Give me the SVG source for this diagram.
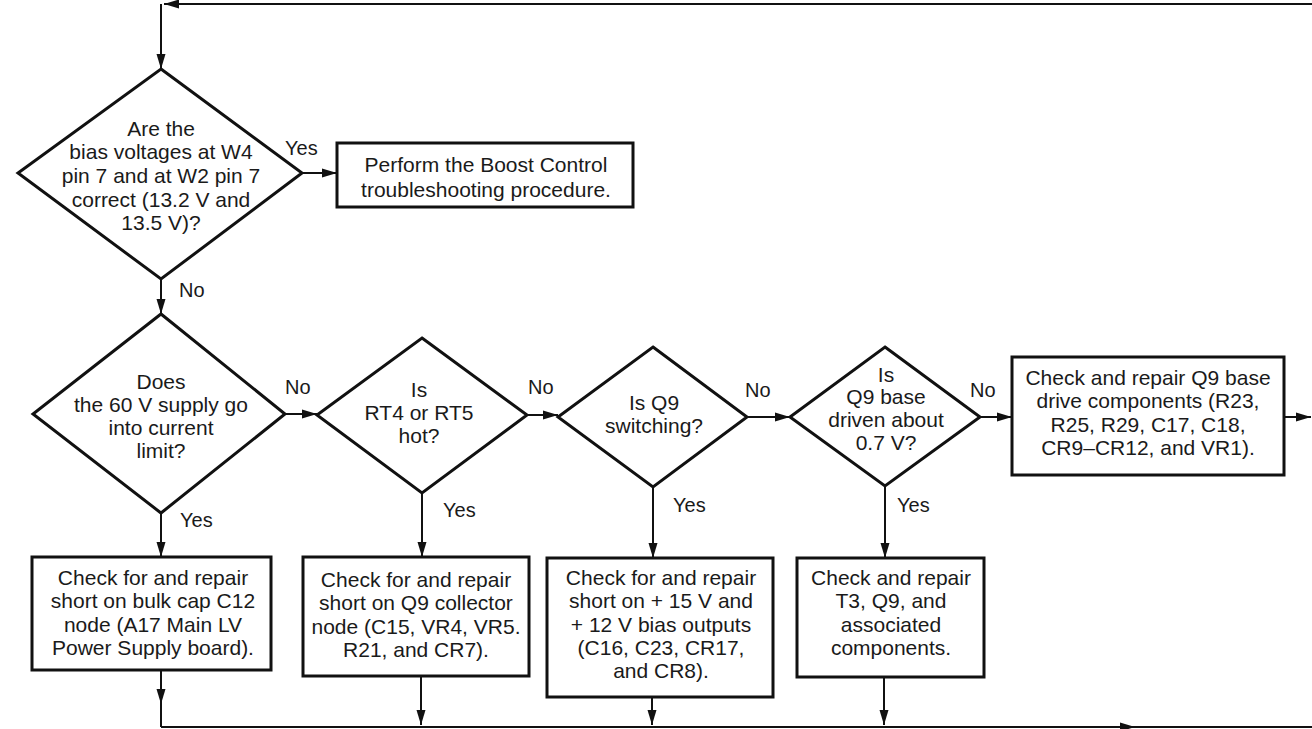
<svg xmlns="http://www.w3.org/2000/svg" width="1312" height="729" viewBox="0 0 1312 729">
<defs>
<marker id="ah" markerUnits="userSpaceOnUse" markerWidth="16" markerHeight="10" refX="15" refY="5" orient="auto">
<path d="M0,0.5 L15,5 L0,9.5 z" fill="#111"/>
</marker>
<style>
.shape{fill:#fff;stroke:#111;stroke-width:3}
.conn{fill:none;stroke:#111;stroke-width:2}
text{font-family:"Liberation Sans",Arial,Helvetica,sans-serif;font-size:21px;fill:#1a1a1a;text-anchor:middle}
.lbl{font-size:20px;text-anchor:start}
</style>
</defs>
<rect width="1312" height="729" fill="#fff"/>
<g id="connectors">
<path class="conn" d="M1312,4 H164" stroke-width="2.5" marker-end="url(#ah)"/>
<path class="conn" d="M161,4 V69" marker-end="url(#ah)"/>
<path class="conn" d="M302,173 H337" marker-end="url(#ah)"/>
<path class="conn" d="M161,279 V314" marker-end="url(#ah)"/>
<path class="conn" d="M285,414 H317" marker-end="url(#ah)"/>
<path class="conn" d="M527,415 H558" marker-end="url(#ah)"/>
<path class="conn" d="M747,417 H790" marker-end="url(#ah)"/>
<path class="conn" d="M980,417 H1012" marker-end="url(#ah)"/>
<path class="conn" d="M1284,417 H1311" marker-end="url(#ah)"/>
<path class="conn" d="M161,513 V557" marker-end="url(#ah)"/>
<path class="conn" d="M422,493 V557" marker-end="url(#ah)"/>
<path class="conn" d="M653,487 V558" marker-end="url(#ah)"/>
<path class="conn" d="M885,486 V558" marker-end="url(#ah)"/>
<path class="conn" d="M161,670 V704" marker-end="url(#ah)"/>
<path class="conn" d="M161,702 V727"/>
<path class="conn" d="M421,676 V725" marker-end="url(#ah)"/>
<path class="conn" d="M652,697 V725" marker-end="url(#ah)"/>
<path class="conn" d="M884,677 V725" marker-end="url(#ah)"/>
<path class="conn" d="M161,727 H1135" marker-end="url(#ah)"/>
<path class="conn" d="M1133,727 H1312"/>
<text class="lbl" x="285" y="155">Yes</text>
<text class="lbl" x="179" y="297">No</text>
<text class="lbl" x="285" y="394">No</text>
<text class="lbl" x="528" y="394">No</text>
<text class="lbl" x="745" y="397">No</text>
<text class="lbl" x="970" y="397">No</text>
<text class="lbl" x="180" y="527">Yes</text>
<text class="lbl" x="443" y="517">Yes</text>
<text class="lbl" x="673" y="512">Yes</text>
<text class="lbl" x="897" y="512">Yes</text>
</g>
<g id="d1">
<polygon class="shape" points="161,69 302,173 161,279 18,173"/>
<text x="161" y="136">Are the</text>
<text x="161" y="159">bias voltages at W4</text>
<text x="161" y="183">pin 7 and at W2 pin 7</text>
<text x="161" y="207">correct (13.2 V and</text>
<text x="161" y="230">13.5 V)?</text>
</g>
<g id="box1">
<rect class="shape" x="337" y="143" width="296" height="64"/>
<text x="486" y="172">Perform the Boost Control</text>
<text x="486" y="197">troubleshooting procedure.</text>
</g>
<g id="d2">
<polygon class="shape" points="161,314 285,414 161,513 33,414"/>
<text x="161" y="389">Does</text>
<text x="161" y="412">the 60 V supply go</text>
<text x="161" y="435">into current</text>
<text x="161" y="458">limit?</text>
</g>
<g id="d3">
<polygon class="shape" points="422,338 527,415 422,493 317,415"/>
<text x="419" y="397">Is</text>
<text x="419" y="420">RT4 or RT5</text>
<text x="419" y="443">hot?</text>
</g>
<g id="d4">
<polygon class="shape" points="653,347 747,417 653,487 558,417"/>
<text x="654" y="410">Is Q9</text>
<text x="654" y="433">switching?</text>
</g>
<g id="d5">
<polygon class="shape" points="885,347 980,417 885,486 790,417"/>
<text x="886" y="382">Is</text>
<text x="886" y="404">Q9 base</text>
<text x="886" y="427">driven about</text>
<text x="886" y="450">0.7 V?</text>
</g>
<g id="box5">
<rect class="shape" x="1012" y="357" width="272" height="118"/>
<text x="1148" y="385">Check and repair Q9 base</text>
<text x="1148" y="408">drive components (R23,</text>
<text x="1148" y="432">R25, R29, C17, C18,</text>
<text x="1148" y="455">CR9–CR12, and VR1).</text>
</g>
<g id="box2a">
<rect class="shape" x="32" y="557" width="239" height="113"/>
<text x="153" y="585">Check for and repair</text>
<text x="153" y="608">short on bulk cap C12</text>
<text x="153" y="632">node (A17 Main LV</text>
<text x="153" y="655">Power Supply board).</text>
</g>
<g id="box3a">
<rect class="shape" x="303" y="557" width="226" height="119"/>
<text x="416" y="587">Check for and repair</text>
<text x="416" y="610">short on Q9 collector</text>
<text x="416" y="634">node (C15, VR4, VR5.</text>
<text x="416" y="657">R21, and CR7).</text>
</g>
<g id="box4a">
<rect class="shape" x="547" y="558" width="226" height="139"/>
<text x="661" y="585">Check for and repair</text>
<text x="661" y="608">short on + 15 V and</text>
<text x="661" y="632">+ 12 V bias outputs</text>
<text x="661" y="655">(C16, C23, CR17,</text>
<text x="661" y="678">and CR8).</text>
</g>
<g id="box5a">
<rect class="shape" x="797" y="558" width="187" height="119"/>
<text x="891" y="585">Check and repair</text>
<text x="891" y="608">T3, Q9, and</text>
<text x="891" y="632">associated</text>
<text x="891" y="655">components.</text>
</g>
</svg>
